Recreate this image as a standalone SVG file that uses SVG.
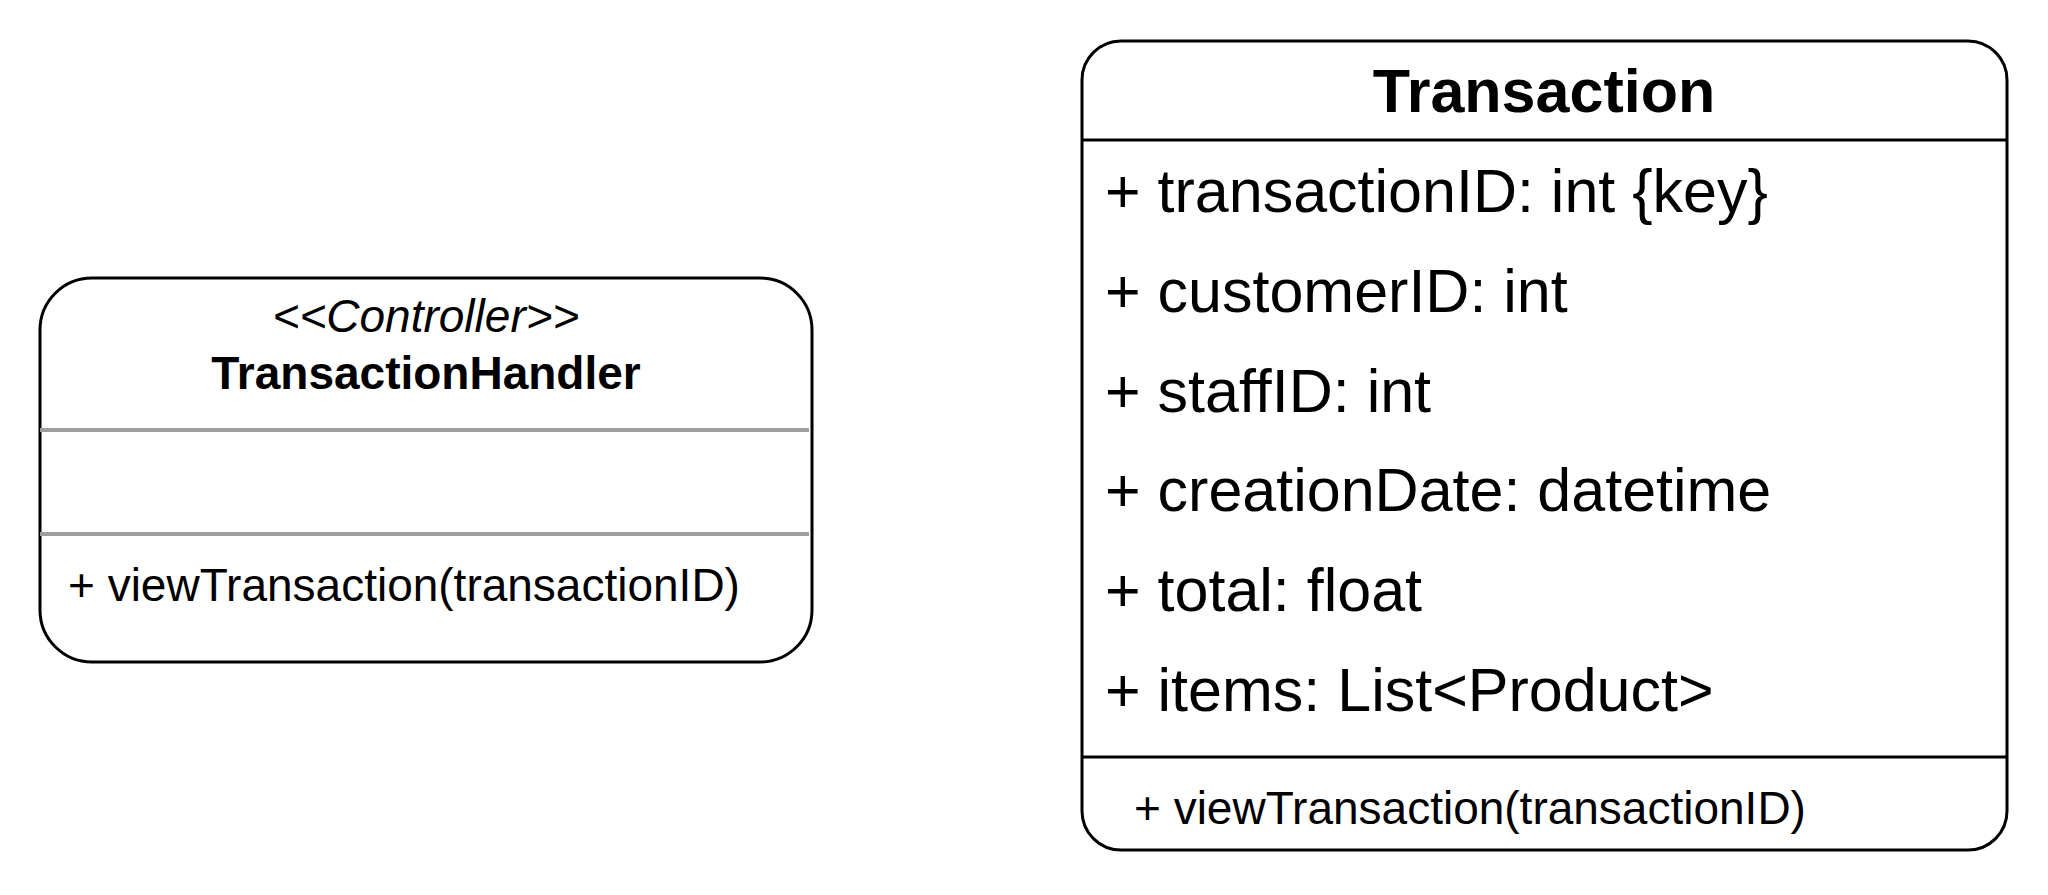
<svg xmlns="http://www.w3.org/2000/svg" width="2048" height="895" viewBox="0 0 2048 895">
  <style>
    .box { fill: #ffffff; stroke: #000000; stroke-width: 3; }
    .sep { stroke: #000000; stroke-width: 3; }
    .sep-gray { stroke: #9e9e9e; stroke-width: 4; }
    .t { font-family: "Liberation Sans", Arial, sans-serif; fill: #000000; }
    .attr { font-size: 61px; }
    .meth { font-size: 46px; }
    .title { font-size: 61px; font-weight: bold; text-anchor: middle; }
    .name { font-size: 46px; font-weight: bold; text-anchor: middle; }
    .stereo { font-size: 46px; font-style: italic; text-anchor: middle; }
  </style>
  <rect width="2048" height="895" fill="#ffffff"/>
  <g id="connectors"></g>
  <g id="TransactionHandler">
    <rect class="box" x="40" y="278" width="772" height="384" rx="52" ry="52"/>
    <line class="sep-gray" x1="40" y1="430" x2="809" y2="430"/>
    <line class="sep-gray" x1="40" y1="534" x2="809" y2="534"/>
    <text class="t stereo" x="426" y="332">&lt;&lt;Controller&gt;&gt;</text>
    <text class="t name" x="426" y="389">TransactionHandler</text>
    <text class="t meth" x="68" y="601">+ viewTransaction(transactionID)</text>
  </g>
  <g id="Transaction">
    <rect class="box" x="1082" y="41" width="925" height="809" rx="39" ry="39"/>
    <line class="sep" x1="1082" y1="140" x2="2007" y2="140"/>
    <line class="sep" x1="1082" y1="757" x2="2007" y2="757"/>
    <text class="t title" x="1544" y="112">Transaction</text>
    <text class="t attr" x="1105" y="212">+ transactionID: int {key}</text>
    <text class="t attr" x="1105" y="312">+ customerID: int</text>
    <text class="t attr" x="1105" y="412">+ staffID: int</text>
    <text class="t attr" x="1105" y="511">+ creationDate: datetime</text>
    <text class="t attr" x="1105" y="611">+ total: float</text>
    <text class="t attr" x="1105" y="711">+ items: List&lt;Product&gt;</text>
    <text class="t meth" x="1134" y="824">+ viewTransaction(transactionID)</text>
  </g>
</svg>
